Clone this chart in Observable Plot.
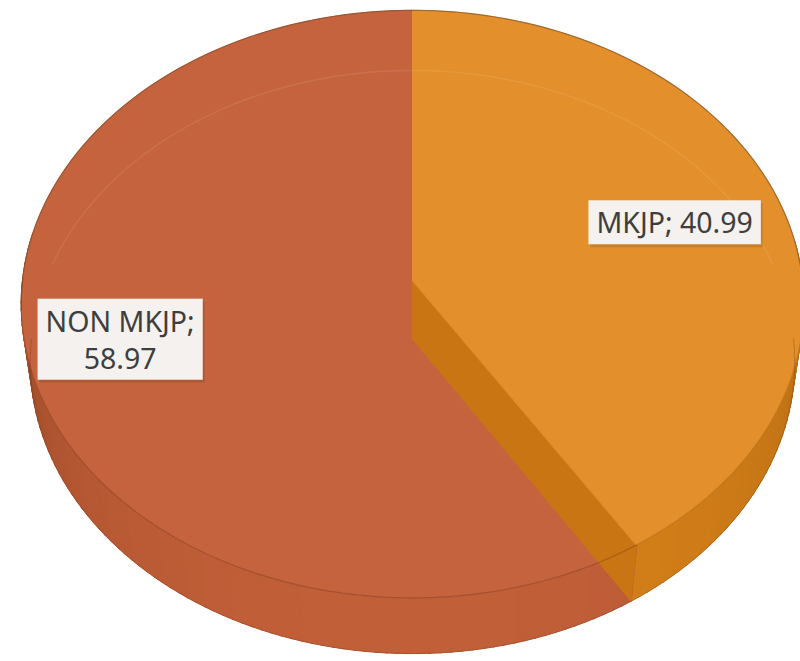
<!DOCTYPE html>
<html><head><meta charset="utf-8">
<script src="https://cdn.jsdelivr.net/npm/d3@7"></script>
<script src="https://cdn.jsdelivr.net/npm/@observablehq/plot@0.6"></script>
<style>body{margin:0;background:#fff;}</style>
</head><body><div id="chart"></div>
<script>
// ---- data ----
const categories = ["MKJP", "NON MKJP"];
const values = [40.99, 58.97];
const labelTexts = ["MKJP; 40.99", "NON MKJP;\n58.97"];
const topColors = ["#e38f2b", "#c4633d"];
const sideColors = ["#d58019", "#c15f38"];
const edgeColors = ["#8f520c", "#6e2e14"];
const wallColors = ["#c97514", "#a94a28"];

// ---- 3D projection (layout) ----
const TILT = 50 * Math.PI / 180, DIST = 8, THICK = 0.245;
const ca = Math.cos(TILT), sa = Math.sin(TILT);
function proj(x, y, z) {
  const up = y * ca - z * sa;
  const depth = y * sa + z * ca;
  const s = DIST / (DIST - depth);
  return [x * s, up * s];
}
function rim(theta, y, r = 1) { return proj(r * Math.sin(theta), y, -r * Math.cos(theta)); }
function arcPts(a0, a1, y, r = 1) {
  const n = Math.max(2, Math.ceil((a1 - a0) / (Math.PI / 180)));
  return d3.range(n + 1).map(k => rim(a0 + (a1 - a0) * k / n, y, r));
}

const total = d3.sum(values);
let acc = 0;
const slices = categories.map((c, i) => {
  const a0 = acc / total * 2 * Math.PI; acc += values[i];
  const a1 = acc / total * 2 * Math.PI;
  return {c, i, a0, a1};
});

const tops = [], sides = [], walls = [], rimLines = [];
slices.forEach(s => {
  [proj(0, 0, 0), ...arcPts(s.a0, s.a1, 0)].forEach(([x, y]) => tops.push({id: s.c, x, y, fill: topColors[s.i]}));
  const n = Math.ceil((s.a1 - s.a0) / (Math.PI / 120));
  for (let k = 0; k < n; k++) {
    const t0 = s.a0 + (s.a1 - s.a0) * k / n, t1 = s.a0 + (s.a1 - s.a0) * (k + 1) / n;
    const facing = -Math.cos((t0 + t1) / 2);
    if (facing < -0.15) continue;
    const t = Math.pow(Math.max(0, facing), 0.3);
    const col = d3.interpolateRgb(edgeColors[s.i], sideColors[s.i])(t);
    [rim(t0, 0), rim(t1 + 0.004, 0), rim(t1 + 0.004, -THICK), rim(t0, -THICK)]
      .forEach(([x, y]) => sides.push({id: s.c + "-" + k, x, y, fill: col}));
  }
  // end wall visible if its normal points to the viewer
  if (Math.sin(s.a1) > 0 && s.a1 < 2 * Math.PI - 1e-6) {
    [proj(0, 0, 0), rim(s.a1, 0), rim(s.a1, -THICK), proj(0, -THICK, 0)]
      .forEach(([x, y]) => walls.push({id: s.c, x, y, fill: wallColors[s.i]}));
  }
  const f0 = Math.max(s.a0, Math.PI / 2), f1 = Math.min(s.a1, 3 * Math.PI / 2);
  if (f1 > f0) arcPts(f0, f1, 0).forEach(([x, y]) => rimLines.push({id: s.c, x, y, stroke: edgeColors[s.i]}));
});
const backRim = arcPts(-Math.PI / 2 - 0.1, Math.PI / 2 + 0.1, 0).map(([x, y]) => ({x, y}));
const frontBottom = arcPts(Math.PI / 2, 3 * Math.PI / 2, -THICK).map(([x, y]) => ({x, y}));
const faintLine = arcPts(-1.3, 1.3, -THICK).map(([x, y]) => ({x, y}));

const wallSlice = walls.length ? walls[0].id : null;
const labelData = slices.map(s => {
  const mid = (s.a0 + s.a1) / 2;
  const [x, y] = rim(mid, 0, 0.7);
  return {x, y, text: labelTexts[s.i]};
});
const labelDx = [4, -26], labelDy = [-3, 0];

const W = 800, H = 661, CX = 412, CY = 280, SX = 390, SY = 381;
const poly = (data) => Plot.line(data, {x: "x", y: "y", z: "id", fill: "fill", stroke: "fill", strokeWidth: 1, curve: "linear-closed"});

const chart = Plot.plot({
  width: W, height: H, margin: 0,
  x: {axis: null, domain: [-CX / SX, (W - CX) / SX], range: [0, W]},
  y: {axis: null, domain: [-(H - CY) / SY, CY / SY], range: [H, 0]},
  color: {type: "identity"},
  marks: [
    poly(sides),
    poly(tops.filter(d => d.id !== wallSlice)),
    poly(walls),
    poly(tops.filter(d => d.id === wallSlice)),
    Plot.line(faintLine, {x: "x", y: "y", stroke: "#ffffff", strokeOpacity: 0.09, strokeWidth: 1.5}),
    Plot.line(rimLines, {x: "x", y: "y", z: "id", stroke: "stroke", strokeOpacity: 0.35, strokeWidth: 1.2}),
    Plot.line(backRim, {x: "x", y: "y", stroke: "#7a4a25", strokeOpacity: 0.6, strokeWidth: 1.2}),
    Plot.line(frontBottom, {x: "x", y: "y", stroke: "#7a3a18", strokeOpacity: 0.35, strokeWidth: 1}),
    ...labelData.map((d, i) => Plot.text([d], {x: "x", y: "y", text: "text", dx: labelDx[i], dy: labelDy[i], fontSize: 28.5, fontFamily: "Noto Sans", fill: "#3e3e3e", lineHeight: 1.3}))
  ]
});
document.getElementById("chart").appendChild(chart);

// label boxes behind texts
d3.select(chart).selectAll("g[aria-label='text'] text").each(function () {
  const b = this.getBBox();
  const padX = 8, padY = 3;
  const g = this.parentNode;
  const mk = (dx, dy, fill, op) => {
    const r = document.createElementNS("http://www.w3.org/2000/svg", "rect");
    r.setAttribute("x", b.x - padX + dx); r.setAttribute("y", b.y - padY + dy);
    r.setAttribute("width", b.width + 2 * padX); r.setAttribute("height", b.height + 2 * padY);
    r.setAttribute("fill", fill); r.setAttribute("fill-opacity", op);
    r.setAttribute("transform", this.getAttribute("transform") || "");
    g.insertBefore(r, this);
  };
  mk(2, 3, "#000", 0.1);
  mk(0, 0, "#f5f1ee", 1);
});
</script></body></html>
